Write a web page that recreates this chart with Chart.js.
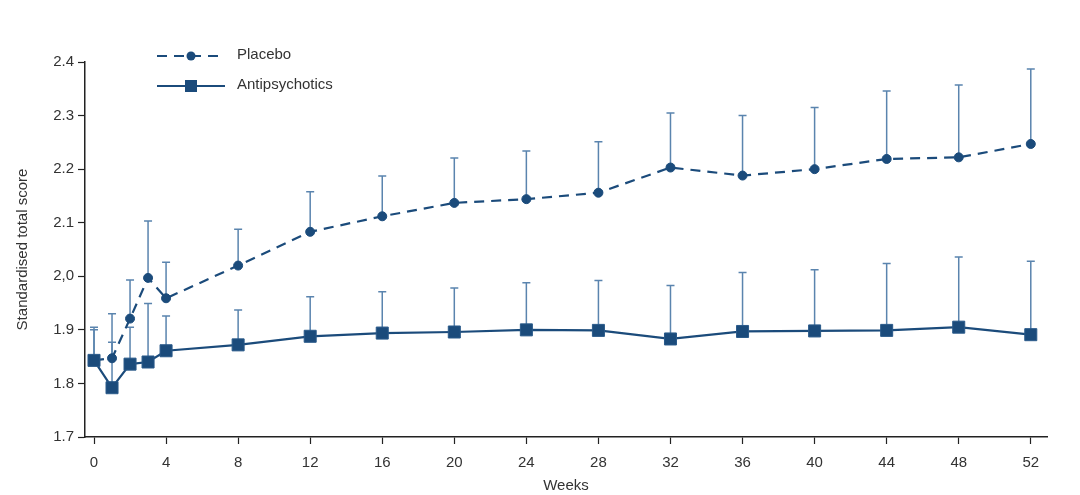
<!DOCTYPE html>
<html>
<head>
<meta charset="utf-8">
<script src="https://cdn.jsdelivr.net/npm/chart.js@4.4.1/dist/chart.umd.min.js"></script>
<style>
  html, body { margin: 0; padding: 0; background: #fff; }
  #wrap { width: 1080px; height: 495px; position: relative; }
</style>
</head>
<body>
<div id="wrap"><canvas id="chart"></canvas></div>
<script>
const LINE_COLOR = "#1b4b7b";
const BAR_COLOR = "#5a84ae";
const TEXT_COLOR = "#333333";
const FONT = '"Liberation Sans", Arial, sans-serif';

const weeks = [0, 1, 2, 3, 4, 8, 12, 16, 20, 24, 28, 32, 36, 40, 44, 48, 52];
const placebo = [1.843, 1.847, 1.921, 1.997, 1.959, 2.020, 2.083, 2.112, 2.137, 2.144, 2.156, 2.203, 2.188, 2.200, 2.219, 2.222, 2.247];
const placeboUpper = [1.900, 1.930, 1.993, 2.103, 2.026, 2.088, 2.158, 2.187, 2.221, 2.234, 2.251, 2.305, 2.300, 2.315, 2.346, 2.357, 2.387];
const antipsychotics = [1.843, 1.792, 1.836, 1.840, 1.861, 1.872, 1.888, 1.894, 1.896, 1.900, 1.899, 1.883, 1.897, 1.898, 1.899, 1.905, 1.891];
const antipsychoticsUpper = [1.905, 1.877, 1.905, 1.949, 1.926, 1.937, 1.962, 1.971, 1.978, 1.988, 1.992, 1.983, 2.007, 2.012, 2.024, 2.036, 2.028];

const xTicks = [0, 4, 8, 12, 16, 20, 24, 28, 32, 36, 40, 44, 48, 52];
const yTicks = [1.7, 1.8, 1.9, 2.0, 2.1, 2.2, 2.3, 2.4];
const yTickLabels = ["1.7", "1.8", "1.9", "2,0", "2.1", "2.2", "2.3", "2.4"];

function toPoints(values) {
  return weeks.map((w, i) => ({ x: w, y: values[i] }));
}

// upper-only error bars, drawn under the lines and markers
const errorBars = {
  id: "errorBars",
  beforeDatasetsDraw(chart) {
    const ctx = chart.ctx;
    const yScale = chart.scales.y;
    ctx.save();
    ctx.strokeStyle = BAR_COLOR;
    ctx.lineWidth = 1.5;
    chart.data.datasets.forEach((ds, di) => {
      const meta = chart.getDatasetMeta(di);
      ds.upper.forEach((u, i) => {
        const pt = meta.data[i];
        if (!pt) return;
        const yTop = yScale.getPixelForValue(u);
        ctx.beginPath();
        ctx.moveTo(pt.x, pt.y);
        ctx.lineTo(pt.x, yTop);
        ctx.moveTo(pt.x - 4, yTop);
        ctx.lineTo(pt.x + 4, yTop);
        ctx.stroke();
      });
    });
    ctx.restore();
  },
};

// legend with line samples like the printed figure
const sampleLegend = {
  id: "sampleLegend",
  afterDraw(chart) {
    const ctx = chart.ctx;
    const items = [
      { label: "Placebo", y: 56, dash: [10, 7], marker: "circle" },
      { label: "Antipsychotics", y: 86, dash: [], marker: "square" },
    ];
    ctx.save();
    items.forEach((it) => {
      ctx.strokeStyle = LINE_COLOR;
      ctx.lineWidth = 2.2;
      ctx.setLineDash(it.dash);
      ctx.beginPath();
      ctx.moveTo(157, it.y);
      ctx.lineTo(225, it.y);
      ctx.stroke();
      ctx.setLineDash([]);
      ctx.fillStyle = LINE_COLOR;
      if (it.marker === "circle") {
        ctx.beginPath();
        ctx.arc(191, it.y, 4.5, 0, Math.PI * 2);
        ctx.fill();
      } else {
        ctx.fillRect(185, it.y - 6, 12, 12);
      }
      ctx.fillStyle = TEXT_COLOR;
      ctx.font = `15px ${FONT}`;
      ctx.textBaseline = "middle";
      ctx.fillText(it.label, 237, it.y - 1);
    });
    ctx.restore();
  },
};

new Chart(document.getElementById("chart"), {
  type: "line",
  data: {
    datasets: [
      {
        label: "Antipsychotics",
        data: toPoints(antipsychotics),
        upper: antipsychoticsUpper,
        borderColor: LINE_COLOR,
        backgroundColor: LINE_COLOR,
        borderWidth: 2.2,
        pointStyle: "rect",
        pointRadius: 8.5,
        pointBorderWidth: 1,
        pointBorderColor: "#2a5a8a",
        order: 0,
      },
      {
        label: "Placebo",
        data: toPoints(placebo),
        upper: placeboUpper,
        borderColor: LINE_COLOR,
        backgroundColor: LINE_COLOR,
        borderWidth: 2.2,
        borderDash: [10, 7],
        pointStyle: "circle",
        pointRadius: 4.5,
        pointBorderWidth: 1,
        order: 1,
      },
    ],
  },
  options: {
    responsive: true,
    maintainAspectRatio: false,
    animation: false,
    layout: { padding: { top: 62, right: 33, left: 0, bottom: 0 } },
    plugins: {
      legend: { display: false },
      tooltip: { enabled: false },
    },
    scales: {
      x: {
        type: "linear",
        min: -0.5,
        max: 52.9,
        afterBuildTicks(axis) {
          axis.ticks = xTicks.map((v) => ({ value: v }));
        },
        afterFit(axis) {
          axis.height = 58;
        },
        grid: { drawOnChartArea: false, drawTicks: true, tickLength: 7, tickColor: "#222", tickWidth: 1.2 },
        border: { color: "#222", width: 1.5 },
        ticks: { color: TEXT_COLOR, font: { family: FONT, size: 15 }, padding: 10, maxRotation: 0 },
        title: { display: true, text: "Weeks", color: TEXT_COLOR, font: { family: FONT, size: 15 }, padding: { top: 0, bottom: 0 } },
      },
      y: {
        min: 1.7,
        max: 2.4,
        afterBuildTicks(axis) {
          axis.ticks = yTicks.map((v) => ({ value: v }));
        },
        afterFit(axis) {
          axis.width = 85;
        },
        grid: { drawOnChartArea: false, drawTicks: true, tickLength: 7, tickColor: "#222", tickWidth: 1.2 },
        border: { color: "#222", width: 1.5 },
        ticks: {
          color: TEXT_COLOR,
          font: { family: FONT, size: 15 },
          padding: 4,
          callback(value) {
            const idx = yTicks.findIndex((t) => Math.abs(t - value) < 1e-6);
            return idx >= 0 ? yTickLabels[idx] : "";
          },
        },
        title: { display: true, text: "Standardised total score", color: TEXT_COLOR, font: { family: FONT, size: 15 }, padding: { top: 14, bottom: 0 } },
      },
    },
  },
  plugins: [errorBars, sampleLegend],
});
</script>
</body>
</html>
